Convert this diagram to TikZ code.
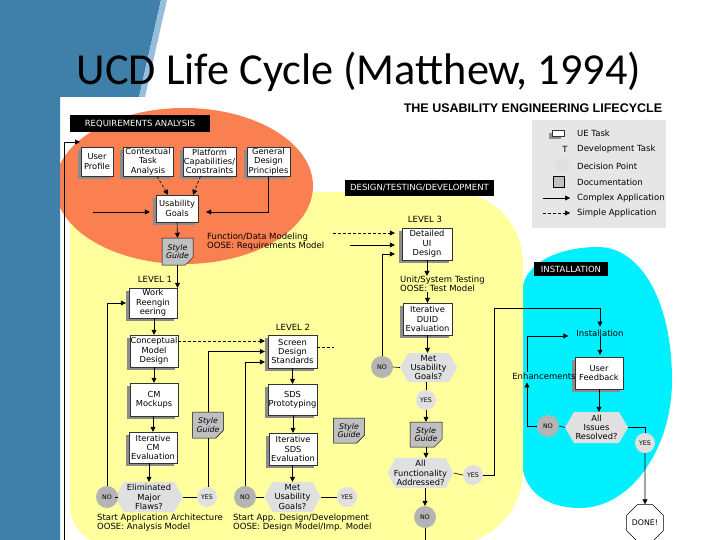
\documentclass[tikz,border=0pt]{standalone}
\usepackage{fontspec}
\setmainfont{DejaVu Sans}
\newfontfamily\titlefont{Carlito}
\newfontfamily\hdrfont{Liberation Sans}
\usetikzlibrary{arrows.meta,shadows,shapes.misc,shapes.geometric,calc}
\definecolor{slideblue}{RGB}{62,128,170}
\definecolor{slidelight}{RGB}{150,190,220}
\definecolor{reqorange}{RGB}{250,128,82}
\definecolor{dtdyellow}{RGB}{255,255,158}
\definecolor{instcyan}{RGB}{0,240,255}
\definecolor{legendgray}{RGB}{230,230,230}
\definecolor{hexgray}{RGB}{224,224,224}
\definecolor{nogray}{RGB}{180,180,180}
\definecolor{docgray}{RGB}{192,192,192}
\definecolor{shadowgray}{RGB}{140,140,140}
\tikzset{
 conn/.style={line width=0.6pt, -{Triangle[length=5pt,width=5pt]}},
 plainline/.style={line width=0.6pt},
 dsh/.style={dash pattern=on 3pt off 2pt},
 task/.style={draw=black!80, line width=0.4pt, fill=white, font=\fontsize{8.3}{9.4}\selectfont, align=center, inner sep=0pt,
   drop shadow={shadow xshift=-3pt, shadow yshift=-3pt, fill=shadowgray, opacity=1}},
 doc/.style={chamfered rectangle, chamfered rectangle corners=south east, chamfered rectangle xsep=4pt,
   draw=black, line width=0.5pt, fill=docgray, font=\itshape\fontsize{7.8}{8.8}\selectfont, align=center, inner sep=0pt},
 dec/.style={font=\fontsize{8.3}{9.4}\selectfont, align=center, inner sep=0pt},
 nocirc/.style={circle, fill=nogray, minimum size=22pt, inner sep=0pt, font=\fontsize{6.3}{6.3}\selectfont},
 yescirc/.style={circle, fill=hexgray, minimum size=20pt, inner sep=0pt, font=\fontsize{6.3}{6.3}\selectfont},
 blacklabel/.style={fill=black, text=white, font=\fontsize{8.5}{9}\selectfont, inner sep=0pt},
 note/.style={font=\fontsize{8.5}{9.2}\selectfont, align=left, inner sep=0pt},
 levellabel/.style={font=\fontsize{8.5}{9}\selectfont, inner sep=0pt},
 legtext/.style={font=\fontsize{8.5}{9}\selectfont, anchor=west, inner sep=0pt},
}
\newcommand\hexat[7]{%
  \fill[hexgray] ({#2-#4/2+#6},{#3-#5/2}) -- ({#2+#4/2-#6},{#3-#5/2}) -- ({#2+#4/2},#3)
     -- ({#2+#4/2-#6},{#3+#5/2}) -- ({#2-#4/2+#6},{#3+#5/2}) -- ({#2-#4/2},#3) -- cycle;
  \node[dec, minimum width=#4pt, minimum height=#5pt] (#1) at (#2,#3) {#7};}
\begin{document}
\begin{tikzpicture}[x=1pt,y=-1pt]
\useasboundingbox (0,0) rectangle (720,540);
\clip (0,0) rectangle (720,540);
\fill[white] (0,0) rectangle (720,540);
% regions
\fill[instcyan] (522,290) .. controls (525,262) and (560,247) .. (598,247)
  .. controls (640,247) and (672,300) .. (672,380)
  .. controls (672,450) and (630,508) .. (580,508)
  .. controls (545,508) and (522,490) .. (522,460) -- cycle;
\fill[dtdyellow] (70,192) -- (450,192) .. controls (495,192) and (523,225) .. (523,265)
  -- (523,470) .. controls (523,512) and (490,545) .. (447,545) -- (110,545)
  .. controls (88,545) and (70,527) .. (70,505) -- cycle;
\fill[reqorange] (184,186) ellipse [x radius=129, y radius=78];
% slide
\fill[slideblue] (0,0) -- (161,0) -- (139,97) -- (60,97) -- (60,540) -- (0,540) -- cycle;
\fill[slidelight] (161,0) -- (167,0) -- (145,97) -- (139,97) -- cycle;
\node[font=\titlefont\fontsize{44.3}{48}\selectfont, anchor=base, inner sep=0pt] (title) at (359,85) {UCD Life Cycle (Matthew, 1994)};
\node[font=\hdrfont\bfseries\fontsize{12.5}{13}\selectfont, inner sep=0pt] (hdr) at (533,108) {THE USABILITY ENGINEERING LIFECYCLE};
% legend
\fill[legendgray] (532,120) rectangle (666,228);
\node[task, minimum width=12pt, minimum height=6pt, line width=0.3pt] (lgtask) at (558,133) {};
\node[legtext] (lgt1) at (577,133) {UE Task};
\node[font=\fontsize{8.5}{9}\selectfont, inner sep=0pt] (lgT) at (565,149) {T};
\node[legtext] (lgt2) at (577,149) {Development Task};
\hexat{lgdec}{561.5}{166}{18}{13}{5}{}
\node[legtext] (lgt3) at (577,166) {Decision Point};
\node[draw, fill=docgray, minimum size=11pt, inner sep=0pt, line width=0.5pt] (lgdoc) at (559,182) {};
\node[legtext] (lgt4) at (577,182) {Documentation};
\coordinate (lga1) at (543,198); \coordinate (lga2) at (570,198);
\draw[conn] (lga1) -- (lga2);
\node[legtext] (lgt5) at (577,198) {Complex Application};
\coordinate (lgb1) at (543,213); \coordinate (lgb2) at (570,213);
\draw[conn, dsh] (lgb1) -- (lgb2);
\node[legtext] (lgt6) at (577,213) {Simple Application};
% black labels
\node[blacklabel, minimum width=140pt, minimum height=17pt] (lreq) at (140,123.5) {REQUIREMENTS ANALYSIS};
\node[blacklabel, minimum width=149pt, minimum height=16pt] (ldtd) at (419.5,188) {DESIGN/TESTING/DEVELOPMENT};
\node[blacklabel, minimum width=74pt, minimum height=14pt] (linst) at (571,269) {INSTALLATION};
% requirements
\node[task, minimum width=32pt, minimum height=29pt] (up) at (97,161.5) {User\\Profile};
\node[task, minimum width=50pt, minimum height=29pt] (cta) at (148,161.5) {Contextual\\Task\\Analysis};
\node[task, minimum width=53pt, minimum height=29pt] (pcc) at (209.5,161.5) {Platform\\Capabilities/\\Constraints};
\node[task, minimum width=43pt, minimum height=29pt] (gdp) at (268.5,161.5) {General\\Design\\Principles};
\node[task, minimum width=42pt, minimum height=27pt] (ug) at (177,208.5) {Usability\\Goals};
\node[doc, minimum width=31pt, minimum height=27pt] (sg1) at (177.5,251.5) {Style\\Guide};
\node[note, anchor=west] (fdm) at (207,241.5) {Function/Data Modeling\\OOSE: Requirements Model};
% level 1
\node[levellabel] (lv1) at (155,279) {LEVEL 1};
\node[task, minimum width=48pt, minimum height=30pt] (wr) at (153,303) {Work\\Reengin\\eering};
\node[task, minimum width=48pt, minimum height=32pt] (cmd) at (154,351) {Conceptual\\Model\\Design};
\node[task, minimum width=48pt, minimum height=33pt] (cmm) at (154,399.5) {CM\\Mockups};
\node[task, minimum width=48pt, minimum height=31pt] (icm) at (153,447.5) {Iterative\\CM\\Evaluation};
\hexat{emf}{149}{497}{68}{30}{9}{Eliminated\\Major\\Flaws?}
\node[nocirc] (no1) at (107,497) {NO};
\node[yescirc] (yes1) at (207,497) {YES};
\node[doc, minimum width=30pt, minimum height=26pt] (sg2) at (208,425) {Style\\Guide};
\node[note, anchor=west] (saa) at (97,523) {Start Application Architecture\\OOSE: Analysis Model};
% level 2
\node[levellabel] (lv2) at (293,327) {LEVEL 2};
\node[task, minimum width=49pt, minimum height=33pt] (sds) at (292.5,351.5) {Screen\\Design\\Standards};
\node[task, minimum width=49pt, minimum height=31pt] (sdsp) at (292.5,399.5) {SDS\\Prototyping};
\node[task, minimum width=48pt, minimum height=32pt] (isds) at (293,449) {Iterative\\SDS\\Evaluation};
\hexat{mug2}{292.5}{497}{56}{30}{8}{Met\\Usability\\Goals?}
\node[nocirc] (no2) at (245,497) {NO};
\node[yescirc] (yes2) at (347,497) {YES};
\node[doc, minimum width=28pt, minimum height=25pt] (sg3) at (349,430.5) {Style\\Guide};
\node[note, anchor=west] (sad) at (233,523) {Start App. Design/Development\\OOSE: Design Model/Imp. Model};
% level 3
\node[levellabel] (lv3) at (425,219) {LEVEL 3};
\node[task, minimum width=50pt, minimum height=32pt] (dud) at (427,244) {Detailed\\UI\\Design};
\node[note, anchor=west] (ut) at (400,284) {Unit/System Testing\\OOSE: Test Model};
\node[task, minimum width=49pt, minimum height=32pt] (iduid) at (427.5,319) {Iterative\\DUID\\Evaluation};
\hexat{mug1}{428.5}{367.5}{57}{29}{8}{Met\\Usability\\Goals?}
\node[nocirc] (no3) at (382,367) {NO};
\node[yescirc] (yes3) at (426,400) {YES};
\node[doc, minimum width=32pt, minimum height=25pt] (sg4) at (426,434.5) {Style\\Guide};
\hexat{afa}{420.5}{473}{66}{30}{8}{All\\Functionality\\Addressed?}
\node[yescirc] (yes4) at (473,475) {YES};
\node[nocirc] (no4) at (425,517) {NO};
% installation
\node[note] (inst) at (600,333) {Installation};
\node[task, minimum width=48pt, minimum height=32pt] (uf) at (599,373) {User\\Feedback};
\node[note] (enh) at (544,376) {Enhancements};
\hexat{air}{596.5}{427.5}{63}{31}{9}{All\\Issues\\Resolved?}
\node[nocirc] (no5) at (548,426) {NO};
\node[yescirc] (yes5) at (645,443) {YES};
\node[regular polygon, regular polygon sides=8, draw, line width=0.5pt, fill=white, minimum size=35pt, inner sep=0pt, font=\fontsize{7.8}{8}\selectfont] (done) at (645,523) {DONE!};
% connectors: requirements
\draw[conn, dsh] ($(cta.south)+(9,0)$) -- ($(ug.north)+(-9,0)$);
\draw[conn, dsh] ($(pcc.south)+(-9,0)$) -- ($(ug.north)+(16,0)$);
\coordinate (ugin) at (93,212);
\draw[conn, shorten >=6pt] (ugin) -- (ugin -| ug.west);
\draw[conn, shorten >=8pt] (gdp.south) |- ($(ug.east)+(0,3.5)$);
\draw[conn] (ug.south) -- (sg1.north);
\draw[conn] (sg1.south) -- (sg1.south |- wr.north);
% level 1
\draw[conn] (cmd.north |- wr.south) -- (cmd.north);
\draw[conn] (cmd.south) -- (cmm.north);
\draw[conn] (icm.north |- cmm.south) -- (icm.north);
\draw[conn] (emf.north |- icm.south) -- (emf.north);
\draw[plainline] (emf.west) -- (no1.east);
\draw[plainline] (emf.east) -- (yes1.west);
\draw[conn, shorten >=3pt] (no1.north) |- (wr.west);
\draw[plainline] (sg2.south |- yes1.north) -- (sg2.south);
\draw[conn, shorten >=3pt] (sg2.north) |- (sds.west);
\draw[conn, dsh, shorten >=3pt] ($(cmd.east)+(0,-10)$) -- ($(sds.west)+(0,-10.5)$);
\draw[conn, shorten >=3pt] (no2.north) |- ($(sds.west)+(0,10.5)$);
% level 2
\draw[plainline, dsh] ($(sds.east)+(0,-4.5)$) -- ++(17,0);
\draw[conn] (sds.south) -- (sdsp.north);
\draw[conn] (isds.north |- sdsp.south) -- (isds.north);
\draw[conn] (mug2.north |- isds.south) -- (mug2.north);
\draw[plainline] (mug2.west) -- (no2.east);
\draw[plainline] (mug2.east) -- (yes2.west);
% level 3
\coordinate (dsin) at (333,233);
\draw[conn, dsh, shorten >=7pt] (dsin) -- (dsin -| dud.west);
\coordinate (dsol) at (350,245);
\draw[conn, shorten >=7pt] (dsol) -- (dsol -| dud.west);
\draw[conn, shorten >=7pt] (no3.north) |- ($(dud.west)+(0,10)$);
\draw[conn] (dud.south) -- (dud.south |- ut.north);
\draw[conn] (iduid.north |- ut.south) -- (iduid.north);
\draw[conn] (iduid.south) -- (iduid.south |- mug1.north);
\draw[plainline] (mug1.west) -- (no3.east);
\draw[plainline] (yes3.north |- mug1.south) -- (yes3.north);
\draw[conn] (yes3.south) -- (yes3.south |- sg4.north);
\draw[conn] (sg4.south) -- (sg4.south |- afa.north);
\draw[plainline] (afa.east) -- (yes4.west);
\coordinate (c1) at (494,308);
\draw[conn, shorten >=3pt] (yes4.east) -| (c1) -| (inst.north);
\draw[conn] (no4.north |- afa.south) -- (no4.north);
\coordinate (lt) at (64,142);
\coordinate (le) at (80,142);
\draw[conn] (no4.south) -- ++(0,40) -| (lt) -- (le);
% installation
\draw[conn, shorten >=2pt] (inst.south) -- (inst.south |- uf.north);
\draw[conn] (uf.south) -- (uf.south |- air.north);
\draw[plainline] (air.west) -- (no5.east);
\draw[conn, shorten >=3pt] (no5.west) -| ($(enh.south)+(-17,0)$);
\draw[conn, shorten >=8pt] ($(enh.north)+(-17,-1)$) |- ($(inst.west)+(0,3)$);
\draw[plainline] (air.east) -| (yes5.north);
\draw[conn] (yes5.south) -- (done.north);
\end{tikzpicture}
\end{document}
